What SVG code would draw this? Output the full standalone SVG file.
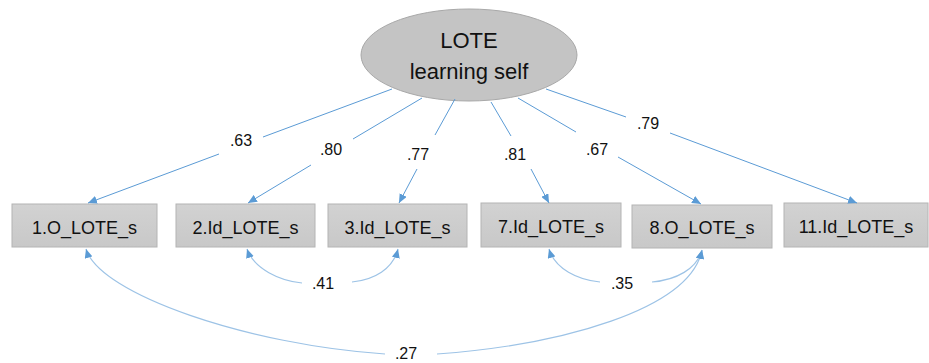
<svg xmlns="http://www.w3.org/2000/svg" width="929" height="363" viewBox="0 0 929 363">
  <defs>
    <marker id="arrow" viewBox="0 0 9 8" refX="9" refY="4" markerWidth="9" markerHeight="8" markerUnits="userSpaceOnUse" orient="auto">
      <path d="M0,0 L9,4 L0,8 z" fill="#5b9bd5"/>
    </marker>
    <linearGradient id="boxFill" x1="0" y1="0" x2="0" y2="1">
      <stop offset="0" stop-color="#d2d2d2"/>
      <stop offset="1" stop-color="#c8c8c8"/>
    </linearGradient>
  </defs>
  <style>
    .box { fill: url(#boxFill); stroke: #b4b4b4; stroke-width: 1; }
    .latent { fill: #c4c4c4; stroke: #a8a8a8; stroke-width: 1; }
    .txt { font-family: "Liberation Sans", Arial, sans-serif; fill: #111; text-anchor: middle; }
    .node-label { font-size: 18px; }
    .latent-label { font-size: 22px; }
    .coef { font-size: 16px; }
    .edge { fill: none; stroke: #5b9bd5; stroke-width: 1; }
    .cov { fill: none; stroke: #9dc3e6; stroke-width: 1.2; }
  </style>
  <rect width="929" height="363" fill="#ffffff"/>

  <!-- latent factor -->
  <g id="lote-learning-self">
    <ellipse class="latent" cx="469" cy="55" rx="108" ry="46"/>
    <text class="txt latent-label" x="469" y="48">LOTE</text>
    <text class="txt latent-label" x="469" y="79">learning self</text>
  </g>

  <!-- observed indicators -->
  <g id="item-1">
    <rect class="box" x="12" y="204" width="145" height="43"/>
    <text class="txt node-label" x="84.5" y="233.5">1.O_LOTE_s</text>
  </g>
  <g id="item-2">
    <rect class="box" x="176" y="204" width="139" height="43"/>
    <text class="txt node-label" x="245.5" y="233.5">2.Id_LOTE_s</text>
  </g>
  <g id="item-3">
    <rect class="box" x="328" y="204" width="139" height="43"/>
    <text class="txt node-label" x="397.5" y="233.5">3.Id_LOTE_s</text>
  </g>
  <g id="item-7">
    <rect class="box" x="481" y="203" width="140" height="44"/>
    <text class="txt node-label" x="551" y="232.5">7.Id_LOTE_s</text>
  </g>
  <g id="item-8">
    <rect class="box" x="632" y="205" width="140" height="43"/>
    <text class="txt node-label" x="702" y="234">8.O_LOTE_s</text>
  </g>
  <g id="item-11">
    <rect class="box" x="784" y="203" width="144" height="44"/>
    <text class="txt node-label" x="856" y="232.5">11.Id_LOTE_s</text>
  </g>

  <!-- loadings and covariances -->
  <g id="connectors">
    <!-- factor loadings -->
    <line class="edge" x1="392" y1="89" x2="263" y2="137"/>
    <line class="edge" x1="219" y1="154" x2="88" y2="203" marker-end="url(#arrow)"/>
    <text class="txt coef" x="241" y="146">.63</text>

    <line class="edge" x1="422" y1="98" x2="353" y2="139"/>
    <line class="edge" x1="311" y1="165" x2="248" y2="203" marker-end="url(#arrow)"/>
    <text class="txt coef" x="331" y="155">.80</text>

    <line class="edge" x1="455" y1="99" x2="435" y2="135"/>
    <line class="edge" x1="417" y1="169" x2="399" y2="203" marker-end="url(#arrow)"/>
    <text class="txt coef" x="418" y="160">.77</text>

    <line class="edge" x1="491" y1="102" x2="511" y2="136"/>
    <line class="edge" x1="531" y1="169" x2="549" y2="203" marker-end="url(#arrow)"/>
    <text class="txt coef" x="515" y="160">.81</text>

    <line class="edge" x1="518" y1="98" x2="576" y2="132"/>
    <line class="edge" x1="618" y1="157" x2="701" y2="204" marker-end="url(#arrow)"/>
    <text class="txt coef" x="597" y="155">.67</text>

    <line class="edge" x1="546" y1="89" x2="626" y2="117"/>
    <line class="edge" x1="670" y1="133" x2="857" y2="203" marker-end="url(#arrow)"/>
    <text class="txt coef" x="648" y="129">.79</text>

    <!-- residual covariances -->
    <path class="cov" d="M302,283 C280,281 254,269 247,249" marker-end="url(#arrow)"/>
    <path class="cov" d="M352,282 C374,280 393,269 398,249" marker-end="url(#arrow)"/>
    <text class="txt coef" x="323" y="288.5">.41</text>

    <path class="cov" d="M600,282 C578,280 555,269 549,249" marker-end="url(#arrow)"/>
    <path class="cov" d="M652,282 C676,280 697,269 702,250" marker-end="url(#arrow)"/>
    <text class="txt coef" x="622" y="288.5">.35</text>

    <path class="cov" d="M385,354 C250,345 100,295 86,249" marker-end="url(#arrow)"/>
    <path class="cov" d="M437,354 C560,345 690,310 702,250" marker-end="url(#arrow)"/>
    <text class="txt coef" x="406" y="359">.27</text>
  </g>
</svg>
